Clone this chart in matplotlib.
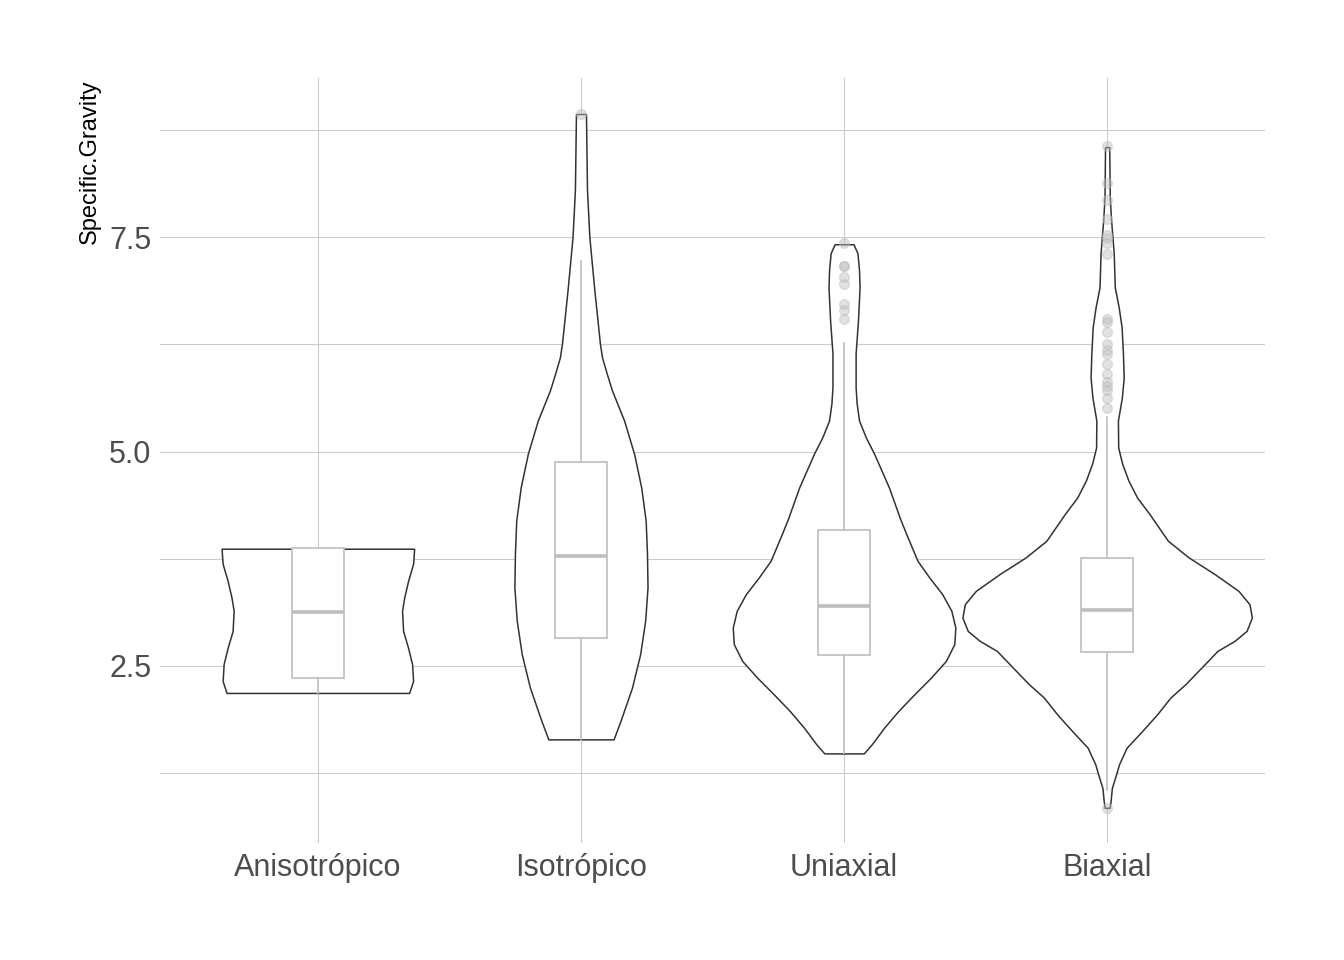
import numpy as np
import matplotlib
matplotlib.use("Agg")
import matplotlib.pyplot as plt
from matplotlib.ticker import MultipleLocator

plt.rcParams['font.family'] = ['Liberation Sans', 'DejaVu Sans']

categories = ["Anisotrópico", "Isotrópico", "Uniaxial", "Biaxial"]

# violin outlines: y value and half width (x units)
aniso_y = [2.185, 2.325, 2.523, 2.710, 2.909, 3.143, 3.294, 3.493, 3.692, 3.867]
aniso_w = [0.347, 0.362, 0.358, 0.343, 0.324, 0.320, 0.328, 0.343, 0.362, 0.366]

iso_y = [1.644, 1.857, 2.247, 2.637, 3.026, 3.415, 3.805, 4.194, 4.583, 4.973,
         5.362, 5.713, 5.90, 6.10, 6.262, 6.881, 7.5, 8.049, 8.937]
iso_w = [0.124, 0.150, 0.194, 0.225, 0.244, 0.253, 0.251, 0.246, 0.229, 0.202,
         0.164, 0.118, 0.099, 0.080, 0.072, 0.051, 0.032, 0.023, 0.019]

uni_y = [1.480, 1.585, 1.779, 1.974, 2.169, 2.363, 2.558, 2.754, 2.947, 3.143,
         3.338, 3.532, 3.727, 4.042, 4.217, 4.579, 4.977, 5.164, 5.362, 5.561,
         5.748, 6.145, 6.530, 6.916, 7.114, 7.313, 7.418]
uni_w = [0.075, 0.105, 0.152, 0.206, 0.267, 0.330, 0.387, 0.419, 0.423, 0.408,
         0.373, 0.324, 0.279, 0.236, 0.213, 0.171, 0.114, 0.083, 0.057, 0.048,
         0.044, 0.044, 0.053, 0.059, 0.057, 0.051, 0.036]

bi_y = [0.845, 0.923, 1.078, 1.235, 1.352, 1.546, 1.741, 1.936, 2.130, 2.286,
        2.480, 2.675, 2.792, 2.909, 3.064, 3.220, 3.376, 3.571, 3.765, 3.960,
        4.276, 4.463, 4.661, 4.860, 5.047, 5.362, 5.631, 5.864, 6.145, 6.449,
        6.682, 6.916, 7.313, 7.699, 7.967, 8.551]
bi_w = [0.009, 0.013, 0.018, 0.034, 0.045, 0.074, 0.133, 0.190, 0.240, 0.297,
        0.358, 0.419, 0.484, 0.530, 0.550, 0.541, 0.499, 0.409, 0.310, 0.231,
        0.160, 0.114, 0.081, 0.057, 0.042, 0.041, 0.056, 0.063, 0.060, 0.055,
        0.044, 0.029, 0.025, 0.015, 0.010, 0.008]

# boxplot summaries
q1 = [2.36, 2.827, 2.63, 2.664]
med = [3.13, 3.785, 3.20, 3.154]
q3 = [3.87, 4.883, 4.089, 3.76]
whislo = [2.185, 1.636, 1.484, 1.05]
whishi = [3.87, 7.22, 6.27, 5.40]
fliers = [
    [],
    [8.94],
    [7.43, 7.17, 7.17, 7.04, 6.96, 6.72, 6.65, 6.55],
    [8.56, 8.13, 7.93, 7.71, 7.53, 7.49, 7.43, 7.30, 6.55, 6.51, 6.40, 6.26,
     6.18, 6.14, 6.02, 5.91, 5.81, 5.77, 5.72, 5.63, 5.51, 0.84],
]

violins = [(aniso_y, aniso_w), (iso_y, iso_w), (uni_y, uni_w), (bi_y, bi_w)]

fig = plt.figure(figsize=(13.44, 9.6), dpi=100)
ax = fig.add_axes([160/1344, 1-843/960, 1105/1344, 765/960])

pos = np.arange(1, len(categories)+1)
for p, (vy, vw) in zip(pos, violins):
    vy = np.array(vy)
    vw = np.array(vw)
    ax.fill_betweenx(vy, p - vw, p + vw, facecolor='white',
                     edgecolor='#333333', linewidth=1.1, zorder=2)

stats = []
for i in range(len(categories)):
    stats.append(dict(med=med[i], q1=q1[i], q3=q3[i], whislo=whislo[i],
                      whishi=whishi[i], fliers=fliers[i]))

ax.bxp(stats, positions=pos, widths=0.2, showcaps=False, patch_artist=True,
       boxprops=dict(facecolor='white', edgecolor='#BEBEBE', linewidth=1.2),
       whiskerprops=dict(color='#BEBEBE', linewidth=1.2),
       medianprops=dict(color='#BEBEBE', linewidth=2.6),
       flierprops=dict(marker='o', markersize=7, markerfacecolor='#BEBEBE',
                       markeredgecolor='#BEBEBE', alpha=0.45),
       zorder=3)

ax.set_xlim(0.4, 4.6)
ax.set_ylim(0.435, 9.357)
ax.set_xticks(pos)
ax.set_xticklabels(categories)
ax.yaxis.set_major_locator(MultipleLocator(2.5))
ax.yaxis.set_minor_locator(MultipleLocator(1.25))
ax.yaxis.set_major_formatter(matplotlib.ticker.FormatStrFormatter('%.1f'))

ax.grid(True, which='major', color='#CCCCCC', linewidth=0.8)
ax.grid(True, which='minor', axis='y', color='#CCCCCC', linewidth=0.8)
ax.set_axisbelow(True)
for s in ax.spines.values():
    s.set_visible(False)
ax.tick_params(which='both', length=0, labelsize=22, labelcolor='#4D4D4D')
ax.tick_params(axis='x', pad=7)
ax.tick_params(axis='y', pad=6)

fig.text(90/1344, 1-79/960, "Specific.Gravity", rotation=90, ha='center',
         va='top', fontsize=17, color='black')

fig.savefig("out.png", dpi=100)
